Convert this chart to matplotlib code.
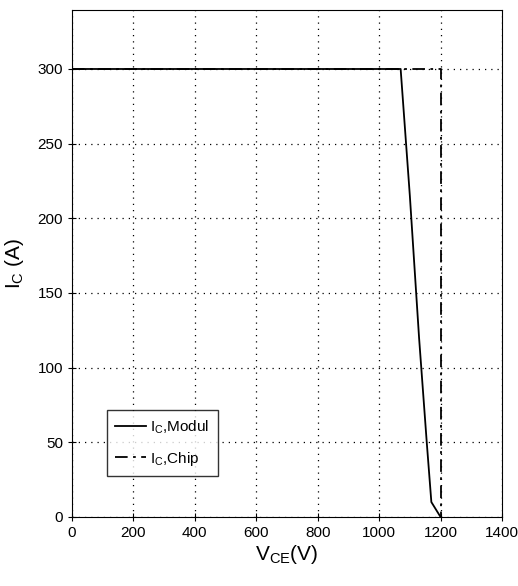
import matplotlib.pyplot as plt
from matplotlib import font_manager

# Safe operating area: module vs chip
vce_modul = [0, 1070, 1100, 1130, 1155, 1170, 1200]
ic_modul = [300, 300, 215, 120, 50, 10, 0]
vce_chip = [0, 1200, 1200]
ic_chip = [300, 300, 0]

xticks = [0, 200, 400, 600, 800, 1000, 1200, 1400]
yticks = [0, 50, 100, 150, 200, 250, 300]

names = {f.name for f in font_manager.fontManager.ttflist}
font = 'Liberation Sans Narrow' if 'Liberation Sans Narrow' in names else 'Liberation Sans'
plt.rcParams['font.family'] = [font, 'DejaVu Sans']
plt.rcParams['mathtext.fontset'] = 'custom'
plt.rcParams['mathtext.rm'] = font
plt.rcParams['mathtext.it'] = font

fig = plt.figure(figsize=(5.18, 5.86), dpi=100)
ax = fig.add_axes([72 / 518, 1 - 517 / 586, 430 / 518, 507 / 586])

ax.plot(vce_modul, ic_modul, color='black', lw=1.3, label=r'$\mathrm{I_C}$,Modul')
ax.plot(vce_chip, ic_chip, color='black', lw=1.3, linestyle=(0, (7, 3, 1.5, 3)),
        label=r'$\mathrm{I_C}$,Chip')

ax.set_xlim(0, 1400)
ax.set_ylim(0, 339.5)
ax.set_xticks(xticks)
ax.set_yticks(yticks)
ax.grid(True, color='black', linestyle=(0, (1, 4)), lw=0.9)
ax.tick_params(direction='inout', length=6, labelsize=11, width=0.8)
for s in ax.spines.values():
    s.set_linewidth(0.8)

ax.set_xlabel(r'$\mathrm{V_{CE}}$(V)', fontsize=15, labelpad=2)
ax.set_ylabel(r'$\mathrm{I_C}$ (A)', fontsize=15, labelpad=8)

leg = ax.legend(loc='lower left', bbox_to_anchor=(0.081, 0.081), fontsize=11,
                frameon=True, fancybox=False, edgecolor='black', handlelength=2.0,
                borderpad=0.55, labelspacing=0.9, handletextpad=0.3, borderaxespad=0)
leg.get_frame().set_linewidth(1.0)

fig.savefig('out.png', dpi=100)
